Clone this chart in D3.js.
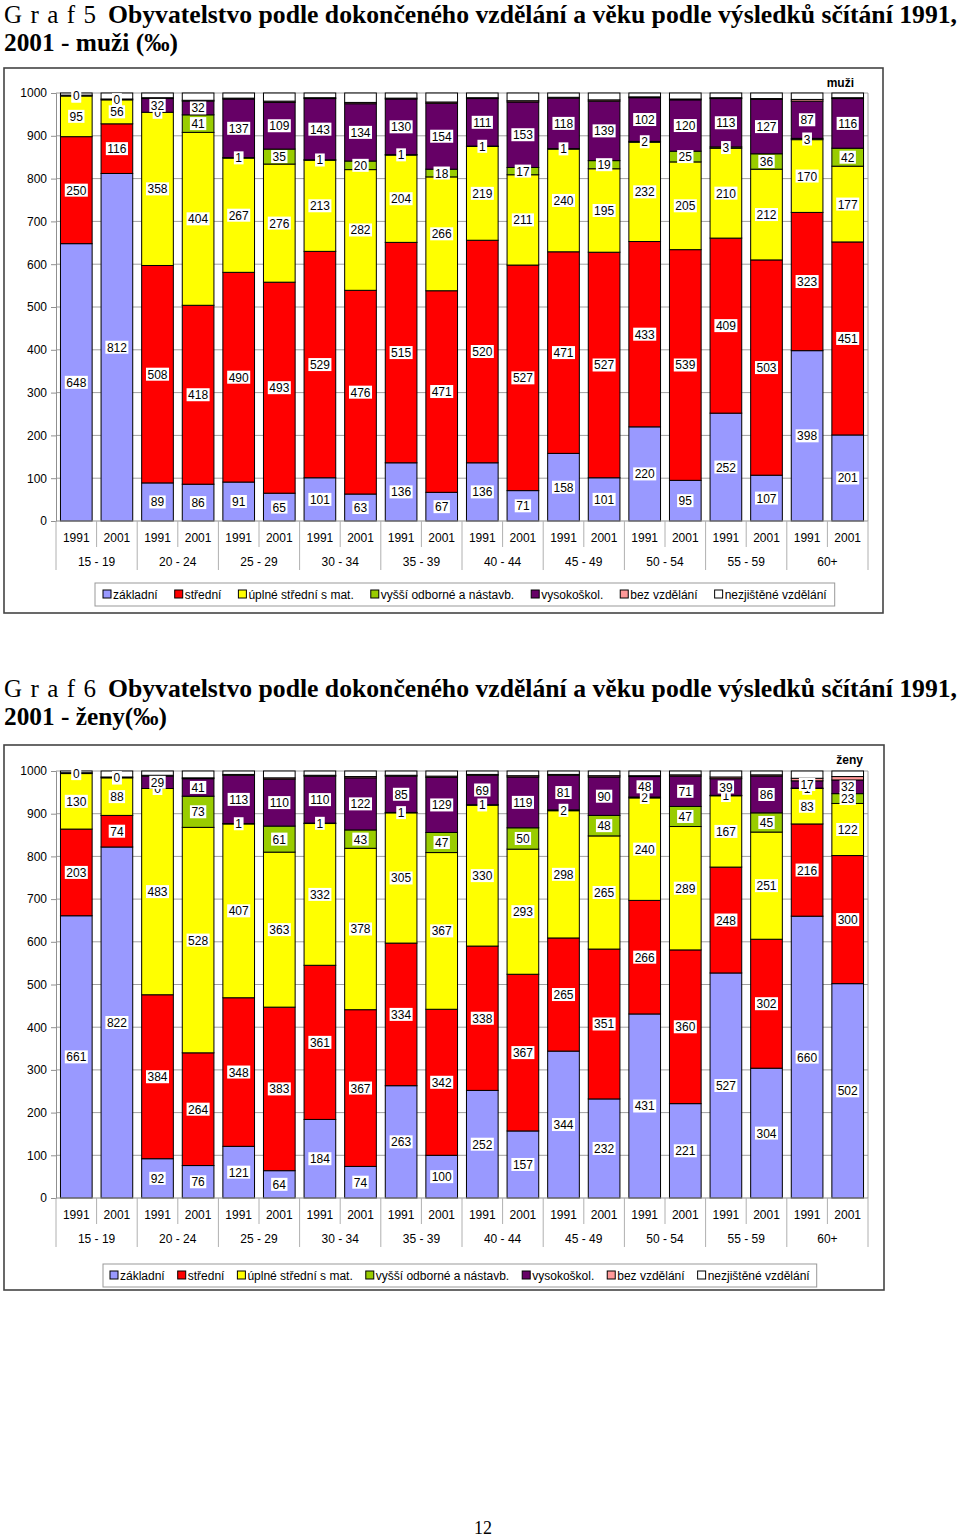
<!DOCTYPE html>
<html><head><meta charset="utf-8">
<script src="https://cdn.jsdelivr.net/npm/d3@7"></script>
<style>body{margin:0;background:#fff} svg{display:block}</style>
</head><body>
<svg id="c" width="960" height="1539"></svg>
<script>
// ---------- DATA ----------
const categories = ["15 - 19","20 - 24","25 - 29","30 - 34","35 - 39","40 - 44","45 - 49","50 - 54","55 - 59","60+"];
const years = ["1991","2001"];
const seriesNames = ["základní","střední","úplné střední s mat.","vyšší odborné a nástavb.","vysokoškol.","bez vzdělání","nezjištěné vzdělání"];
const seriesColors = ["#9999FF","#FF0000","#FFFF00","#99CC00","#660066","#FF9999","#FFFFFF"];
const yTickValues = [0,100,200,300,400,500,600,700,800,900,1000];

// Graf 5 – muži (‰), bars ordered 15-19/1991, 15-19/2001, 20-24/1991, ...
const muziZakladni = [648,812,89,86,91,65,101,63,136,67,136,71,158,101,220,95,252,107,398,201];
const muziStredni  = [250,116,508,418,490,493,529,476,515,471,520,527,471,527,433,539,409,503,323,451];
const muziUplne    = [95,56,358,404,267,276,213,282,204,266,219,211,240,195,232,205,210,212,170,177];
const muziVyssi    = [0,0,0,41,1,35,1,20,1,18,1,17,1,19,2,25,3,36,3,42];
const muziVysoko   = [0,0,32,32,137,109,143,134,130,154,111,153,118,139,102,120,113,127,87,116];
const muziBez      = [2,2,2,2,2,3,2,3,2,3,2,3,2,3,2,2,2,2,4,2];
const muziNezj     = [5,14,11,17,12,19,11,22,12,21,11,18,10,16,9,14,11,13,15,11];

// Graf 6 – ženy (‰)
const zenyZakladni = [661,822,92,76,121,64,184,74,263,100,252,157,344,232,431,221,527,304,660,502];
const zenyStredni  = [203,74,384,264,348,383,361,367,334,342,338,367,265,351,266,360,248,302,216,300];
const zenyUplne    = [130,88,483,528,407,363,332,378,305,367,330,293,298,265,240,289,167,251,83,122];
const zenyVyssi    = [0,0,0,73,1,61,1,43,1,47,1,50,2,48,2,47,1,45,1,23];
const zenyVysoko   = [0,0,29,41,113,110,110,122,85,129,69,119,81,90,48,71,39,86,17,32];
const zenyBez      = [2,2,2,2,2,3,2,3,2,3,2,3,2,3,2,3,4,3,6,8];
const zenyNezj     = [4,14,10,16,8,16,10,13,10,12,8,11,8,11,11,9,14,9,17,13];

const titleLead1 = "Graf 5", titleLead2 = "Graf 6";
const titleMain = "Obyvatelstvo podle dokončeného vzdělání a věku podle výsledků sčítání 1991,";
const titleSub1 = "2001 - muži (‰)", titleSub2 = "2001 - ženy(‰)";
const sexLabel1 = "muži", sexLabel2 = "ženy";
const pageNumber = "12";

// ---------- DRAW ----------
const svg = d3.select("#c");
const SANS = "'Liberation Sans', Arial, sans-serif";
const SERIF = "'Liberation Serif', 'Times New Roman', serif";
const keys = ["k0","k1","k2","k3","k4","k5","k6"];

function buildRows(arrs) {
  return arrs[0].map((_, i) => {
    const r = {i: i};
    arrs.forEach((a, j) => r[keys[j]] = a[i]);
    return r;
  });
}

function drawChart(cfg) {
  const g = svg.append("g");
  const T = cfg.top;
  g.append("rect").attr("x", 4).attr("y", T).attr("width", cfg.frameW).attr("height", cfg.frameH)
    .attr("fill", "#fff").attr("stroke", "#444").attr("stroke-width", 1.6);

  g.append("text").attr("x", 4).attr("y", cfg.titleY)
    .attr("font-family", SERIF).attr("font-size", 25).attr("textLength", 92).attr("lengthAdjust", "spacing")
    .text(cfg.lead.split("").join(" ").replace("f 5","f  5").replace("f 6","f  6"));
  g.append("text").attr("x", 108).attr("y", cfg.titleY)
    .attr("font-family", SERIF).attr("font-weight", "bold").attr("font-size", 25)
    .attr("textLength", 849).attr("lengthAdjust", "spacingAndGlyphs")
    .text(titleMain);
  g.append("text").attr("x", 4).attr("y", cfg.titleY + 28)
    .attr("font-family", SERIF).attr("font-weight", "bold").attr("font-size", 25)
    .attr("textLength", cfg.subW).attr("lengthAdjust", "spacingAndGlyphs")
    .text(cfg.sub);

  const y = d3.scaleLinear().domain([0, 1000]).range([cfg.y0, cfg.y1000]);
  const x = d3.scaleBand().domain(d3.range(20)).range([56, 868]).paddingInner(0.22).paddingOuter(0.11);
  const step = x.step();
  const px0 = 56, px1 = 868;

  g.append("g").selectAll("line").data(yTickValues.filter(v => v > 0)).join("line")
    .attr("x1", px0).attr("x2", px1).attr("y1", d => y(d)).attr("y2", d => y(d))
    .attr("stroke", "#a0a0a0").attr("stroke-width", 1);
  g.append("line").attr("x1", px1).attr("x2", px1).attr("y1", y(1000)).attr("y2", y(0))
    .attr("stroke", "#a0a0a0");

  const ya = g.append("g").attr("transform", `translate(${px0},0)`)
    .call(d3.axisLeft(y).tickValues(yTickValues).tickFormat(d3.format("d")).tickSize(5).tickPadding(4));
  ya.select(".domain").attr("stroke", "#909090");
  ya.selectAll(".tick line").attr("stroke", "#909090");
  ya.selectAll(".tick text").attr("font-family", SANS).attr("font-size", 12).attr("fill", "#000");

  const rows = buildRows(cfg.data);
  const stacked = d3.stack().keys(keys)(rows);
  stacked.forEach((layer, si) => {
    g.append("g").selectAll("rect").data(layer).join("rect")
      .attr("x", (d, i) => x(i)).attr("width", x.bandwidth())
      .attr("y", d => y(d[1])).attr("height", d => y(d[0]) - y(d[1]))
      .attr("fill", seriesColors[si]).attr("stroke", "#000").attr("stroke-width", 1);
  });

  g.append("line").attr("x1", px0).attr("x2", px1).attr("y1", y(0)).attr("y2", y(0)).attr("stroke", "#909090");
  const tk = g.append("g");
  for (let b = 0; b <= 20; b++) {
    const xx = px0 + b * step;
    const long = b % 2 === 0;
    tk.append("line").attr("x1", xx).attr("x2", xx).attr("y1", y(0)).attr("y2", y(0) + (long ? 49 : 26))
      .attr("stroke", "#b0b0b0");
  }
  g.append("g").selectAll("text").data(d3.range(20)).join("text")
    .attr("x", i => x(i) + x.bandwidth() / 2).attr("y", y(0) + 21)
    .attr("text-anchor", "middle").attr("font-family", SANS).attr("font-size", 12)
    .text(i => years[i % 2]);
  g.append("g").selectAll("text").data(categories).join("text")
    .attr("x", (d, k) => px0 + (2 * k + 1) * step).attr("y", y(0) + 45)
    .attr("text-anchor", "middle").attr("font-family", SANS).attr("font-size", 12)
    .text(d => d);

  const lg = g.append("g");
  stacked.slice(0, 5).forEach((layer, si) => {
    layer.forEach((d, i) => {
      const v = d[1] - d[0];
      const cx = x(i) + x.bandwidth() / 2;
      const cy = y((d[0] + d[1]) / 2);
      const t = lg.append("text").attr("x", cx).attr("y", cy + 4.5)
        .attr("text-anchor", "middle").attr("font-family", SANS).attr("font-size", 12)
        .text(String(v));
      const w = t.node().getComputedTextLength();
      lg.insert("rect", function () { return t.node(); })
        .attr("x", cx - w / 2 - 1.5).attr("y", cy - 6.5).attr("width", w + 3).attr("height", 13)
        .attr("fill", "#fff");
    });
  });

  g.append("text").attr("x", cfg.sexX).attr("y", cfg.sexY).attr("text-anchor", "end")
    .attr("font-family", SANS).attr("font-weight", "bold").attr("font-size", 12).text(cfg.sex);

  const leg = g.append("g");
  const legRect = leg.append("rect").attr("x", cfg.legX).attr("y", cfg.legY)
    .attr("height", 23).attr("fill", "#fff").attr("stroke", "#999");
  let cx = cfg.legX + cfg.legPad;
  const cyL = cfg.legY + 11.5;
  seriesNames.forEach((name, si) => {
    leg.append("rect").attr("x", cx).attr("y", cyL - 4.5).attr("width", 8).attr("height", 8)
      .attr("fill", seriesColors[si]).attr("stroke", "#000").attr("stroke-width", 1);
    const t = leg.append("text").attr("x", cx + 10).attr("y", cyL + 4.3)
      .attr("font-family", SANS).attr("font-size", 12).text(name);
    const w = t.node().getComputedTextLength();
    cx = cx + 10 + w + (si < seriesNames.length - 1 ? cfg.legGap : 0);
  });
  legRect.attr("width", cx - cfg.legX + cfg.legPad);
}

drawChart({
  top: 68, frameW: 879, frameH: 545, titleY: 23, lead: titleLead1, sub: titleSub1, subW: 174,
  y0: 521, y1000: 93,
  data: [muziZakladni, muziStredni, muziUplne, muziVyssi, muziVysoko, muziBez, muziNezj],
  sex: sexLabel1, sexX: 854, sexY: 87,
  legX: 95, legY: 583, legPad: 8, legGap: 17
});
drawChart({
  top: 745, frameW: 880, frameH: 545, titleY: 697, lead: titleLead2, sub: titleSub2, subW: 163,
  y0: 1198, y1000: 771,
  data: [zenyZakladni, zenyStredni, zenyUplne, zenyVyssi, zenyVysoko, zenyBez, zenyNezj],
  sex: sexLabel2, sexX: 863, sexY: 764,
  legX: 103, legY: 1264, legPad: 7, legGap: 13
});

svg.append("text").attr("x", 483).attr("y", 1534).attr("text-anchor", "middle")
  .attr("font-family", SERIF).attr("font-size", 18).text(pageNumber);
</script>
</body></html>
